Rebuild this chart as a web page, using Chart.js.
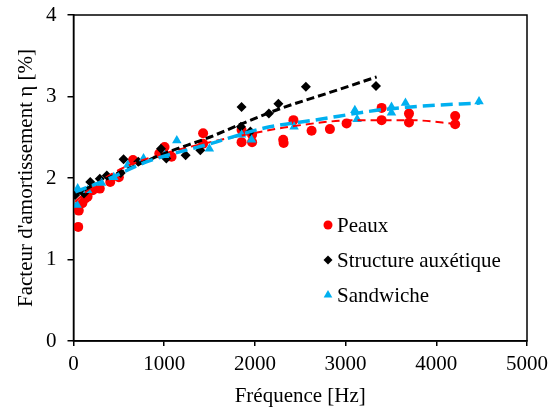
<!DOCTYPE html>
<html>
<head>
<meta charset="utf-8">
<script src="https://cdn.jsdelivr.net/npm/chart.js@4"></script>
<style>
  html, body { margin: 0; padding: 0; background: #fff; }
  #wrap { width: 549px; height: 409px; position: relative; }
</style>
</head>
<body>
<div id="wrap"><canvas id="chart"></canvas></div>
<script>
const peauxFreq = [52, 58, 97, 130, 155, 212, 290, 405, 500, 656, 946, 1004, 1081, 1429, 1429, 1853, 1853, 1969, 1969, 2312, 2317, 2425, 2625, 2827, 3011, 3397, 3397, 3699, 3699, 4208, 4208]
const peauxEta = [1.40, 1.60, 1.69, 1.75, 1.77, 1.85, 1.87, 1.95, 2.01, 2.22, 2.30, 2.38, 2.26, 2.55, 2.42, 2.44, 2.59, 2.53, 2.44, 2.47, 2.43, 2.71, 2.58, 2.60, 2.67, 2.71, 2.86, 2.79, 2.68, 2.76, 2.66]

const auxFreq = [19, 116, 185, 290, 367, 521, 552, 714, 965, 1023, 1236, 1398, 1853, 1846, 1950, 2154, 2259, 2562, 3335]
const auxEta = [1.79, 1.81, 1.95, 1.99, 2.03, 2.06, 2.23, 2.20, 2.36, 2.24, 2.28, 2.34, 2.87, 2.63, 2.57, 2.79, 2.91, 3.12, 3.13]

const sandFreq = [39, 46, 155, 309, 444, 598, 772, 1004, 1139, 1498, 1853, 1963, 2432, 3102, 3127, 3506, 3506, 3660, 4471]
const sandEta = [1.67, 1.87, 1.85, 1.94, 2.01, 2.16, 2.24, 2.28, 2.46, 2.36, 2.53, 2.47, 2.63, 2.83, 2.72, 2.87, 2.80, 2.92, 2.94]

// dashed trend lines, sampled along the drawn curves
const peauxTrendFreq = [19, 193, 540, 1004, 1429, 1892, 2386, 3121, 3706, 4247]
const peauxTrendEta = [1.71, 1.88, 2.12, 2.30, 2.42, 2.53, 2.63, 2.71, 2.71, 2.66]

const auxTrendFreq = [0, 500, 1000, 1500, 1800, 2276, 2827, 3342]
const auxTrendEta = [1.79, 2.06, 2.30, 2.50, 2.64, 2.85, 3.05, 3.24]

const sandTrendFreq = [19, 347, 811, 1506, 2092, 2717, 3342, 3822, 4479]
const sandTrendEta = [1.83, 1.97, 2.20, 2.42, 2.61, 2.72, 2.83, 2.88, 2.92]

const xTicks = [0, 1000, 2000, 3000, 4000, 5000]
const yTicks = [0, 1, 2, 3, 4]

const seriesNames = ["Peaux", "Structure auxétique", "Sandwiche"]

const RED = "#ff0000"
const BLACK = "#000000"
const BLUE = "#00b0f0"
const FONT = "'Liberation Serif', 'Times New Roman', serif"

const pts = (xs, ys) => xs.map((x, i) => ({ x, y: ys[i] }))

function scatterSet(label, xs, ys, color, style, radius, order) {
  return {
    type: "scatter",
    label,
    data: pts(xs, ys),
    pointStyle: style,
    pointRadius: radius,
    pointBackgroundColor: color,
    pointBorderColor: color,
    pointBorderWidth: 0,
    showLine: false,
    order,
  }
}

function trendSet(xs, ys, color, width, dash, order) {
  return {
    type: "line",
    label: "",
    data: pts(xs, ys),
    borderColor: color,
    borderWidth: width,
    borderDash: dash,
    pointRadius: 0,
    cubicInterpolationMode: "monotone",
    fill: false,
    order,
  }
}

// frame round the plot area + legend inside it
const framePlugin = {
  id: "frame",
  afterDraw(chart) {
    const { ctx, chartArea: a } = chart
    ctx.save()
    ctx.strokeStyle = "#000"
    ctx.lineWidth = 1.5
    ctx.strokeRect(a.left, a.top, a.right - a.left, a.bottom - a.top)

    const rows = [
      { color: RED, style: "circle", r: 4.5, y: 225 },
      { color: BLACK, style: "rectRot", r: 4.5, y: 260 },
      { color: BLUE, style: "triangle", r: 5, y: 295 },
    ]
    ctx.font = "21px " + FONT
    ctx.textBaseline = "middle"
    rows.forEach((row, i) => {
      ctx.fillStyle = row.color
      ctx.strokeStyle = row.color
      Chart.helpers.drawPoint(ctx, { pointStyle: row.style, radius: row.r, rotation: 0, borderWidth: 0 }, 328, row.y)
      ctx.fillStyle = "#000"
      ctx.fillText(seriesNames[i], 337, row.y + 1)
    })
    ctx.restore()
  },
}

new Chart(document.getElementById("chart"), {
  data: {
    datasets: [
      trendSet(sandTrendFreq, sandTrendEta, BLUE, 3.5, [12, 6], 1),
      trendSet(auxTrendFreq, auxTrendEta, BLACK, 3, [8, 4], 2),
      trendSet(peauxTrendFreq, peauxTrendEta, RED, 2, [8, 5], 3),
      scatterSet(seriesNames[2], sandFreq, sandEta, BLUE, "triangle", 5.5, 4),
      scatterSet(seriesNames[1], auxFreq, auxEta, BLACK, "rectRot", 5, 5),
      scatterSet(seriesNames[0], peauxFreq, peauxEta, RED, "circle", 5, 6),
    ],
  },
  options: {
    responsive: true,
    maintainAspectRatio: false,
    animation: false,
    layout: { padding: { left: 0, right: 22, top: 15, bottom: 0 } },
    plugins: {
      legend: { display: false },
      tooltip: { enabled: false },
    },
    scales: {
      x: {
        type: "linear",
        min: 0,
        max: 5000,
        afterBuildTicks: (axis) => { axis.ticks = xTicks.map((v) => ({ value: v })) },
        afterFit: (axis) => { axis.height = 68; axis.paddingLeft = 0; axis.paddingRight = 0 },
        ticks: { color: "#000", font: { family: FONT, size: 21 }, padding: 6, maxRotation: 0, callback: (v) => String(v) },
        grid: { drawOnChartArea: false, drawTicks: true, tickLength: 5, color: "#000", lineWidth: 1.5 },
        border: { display: true, color: "#000", width: 1.5 },
        title: { display: true, text: "Fréquence [Hz]", color: "#000", font: { family: FONT, size: 21 }, padding: { top: 0, bottom: 0 } },
      },
      y: {
        type: "linear",
        min: 0,
        max: 4,
        afterBuildTicks: (axis) => { axis.ticks = yTicks.map((v) => ({ value: v })) },
        afterFit: (axis) => { axis.width = 73.5; axis.paddingTop = 0; axis.paddingBottom = 0 },
        ticks: { color: "#000", font: { family: FONT, size: 21 }, padding: 11, callback: (v) => String(v) },
        grid: { drawOnChartArea: false, drawTicks: true, tickLength: 6, color: "#000", lineWidth: 1.5 },
        border: { display: true, color: "#000", width: 1.5 },
        title: { display: true, text: "Facteur d'amortissement η [%]", color: "#000", font: { family: FONT, size: 21 }, padding: { top: 14, bottom: 0 } },
      },
    },
  },
  plugins: [framePlugin],
})
</script>
</body>
</html>
